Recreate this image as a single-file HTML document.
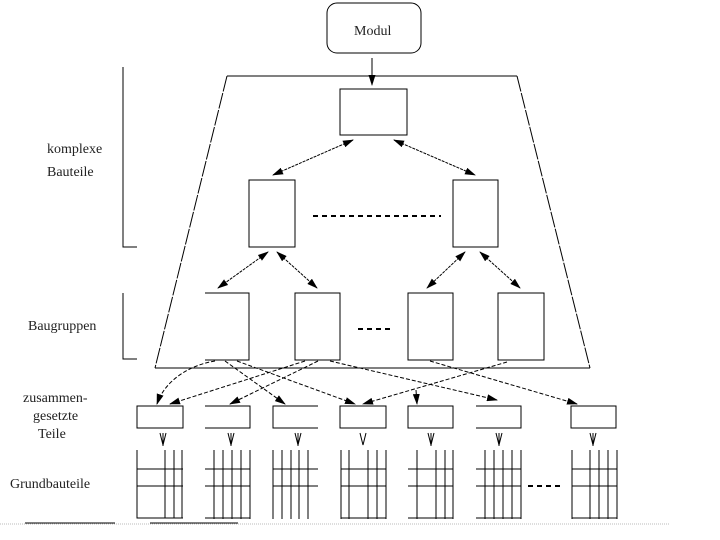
<!DOCTYPE html>
<html><head><style>body{margin:0;background:#fff}svg{display:block}text{font-family:"Liberation Serif",serif;font-size:14px;fill:#222}</style></head><body>
<svg width="720" height="540" viewBox="0 0 720 540" xmlns="http://www.w3.org/2000/svg">
<defs><marker id="a" markerWidth="11" markerHeight="7" refX="10" refY="3.5" orient="auto-start-reverse" markerUnits="userSpaceOnUse"><path d="M0,0L11,3.5L0,7z" fill="#000"/></marker></defs>
<g stroke="#000" fill="none" stroke-width="1">
<rect x="327" y="3" width="94" height="50" rx="10"/>
<line x1="372" y1="58" x2="372" y2="85" marker-end="url(#a)"/>
<path d="M227,76H517M155,368H590"/>
<path d="M227,76L155,368M517,76L590,368" stroke-dasharray="16,1.5"/>
<rect x="340" y="89" width="67" height="46"/>
<rect x="249" y="180" width="46" height="67"/>
<rect x="453" y="180" width="45" height="67"/>
<path d="M205,293H249V360H205M295,293h45v67h-45zM408,293h45v67h-45zM498,293h46v67h-46z"/>
<line x1="313" y1="216" x2="441" y2="216" stroke-dasharray="5,4" stroke-width="2"/>
<line x1="358" y1="329" x2="392" y2="329" stroke-dasharray="5,4" stroke-width="2"/>
<g stroke-dasharray="3,1" marker-start="url(#a)" marker-end="url(#a)">
<line x1="353" y1="140" x2="273" y2="175"/>
<line x1="394" y1="140" x2="475" y2="175"/>
<line x1="268" y1="252" x2="218" y2="288"/>
<line x1="277" y1="252" x2="317" y2="288"/>
<line x1="465" y1="252" x2="427" y2="288"/>
<line x1="480" y1="252" x2="520" y2="288"/>
</g>
<path d="M123,67V247H137M123,293V359H137"/>
<g stroke-dasharray="4,2" >
<path d="M215,361C190,365 165,380 157,404" marker-end="url(#a)"/>
<line x1="305" y1="361" x2="170" y2="404" marker-end="url(#a)"/>
<line x1="318" y1="361" x2="230" y2="404" marker-end="url(#a)"/>
<line x1="225" y1="361" x2="285" y2="404" marker-end="url(#a)"/>
<line x1="237" y1="361" x2="355" y2="404" marker-end="url(#a)"/>
<line x1="330" y1="361" x2="497" y2="400" marker-end="url(#a)"/>
<line x1="507" y1="362" x2="363" y2="404" marker-end="url(#a)"/>
<line x1="430" y1="361" x2="577" y2="404" marker-end="url(#a)"/>
<line x1="416" y1="390" x2="417" y2="404" marker-end="url(#a)"/>
</g>
<path d="M137,406h46v22h-46zM205,406H250V428H205M318,406H273V428H318M340,406h46v22h-46zM408,406h45v22h-45zM476,406H521V428H476M571,406h45v22h-45z"/>
<g>
<path d="M160,433l3,12l3,-12M163,433v13"/><path d="M228,433l3,12l3,-12M231,433v13"/><path d="M295,433l3,12l3,-12M298,433v13"/><path d="M360,433l3,12l3,-12"/><path d="M428,433l3,12l3,-12M431,433v13"/><path d="M496,433l3,12l3,-12M499,433v13"/><path d="M590,433l3,12l3,-12M593,433v13"/>
</g>
<path d="M137,450V518H183M165,450V518M174,450V518M182,450V518M137,469H183M137,486H183"/>
<path d="M214,450V519M223,450V519M232,450V519M241,450V519M250,450V519M205,469H250M205,486H250M205,518H250"/>
<path d="M273,450V519M282,450V519M291,450V519M299,450V519M308,450V519M273,469H318M273,486H318"/>
<path d="M341,450V519M349,450V519M368,450V519M377,450V519M386,450V519M341,469H386M341,486H386M341,518H386"/>
<path d="M417,450V519M436,450V519M445,450V519M453,450V519M408,469H453M408,486H453M408,518H453"/>
<path d="M485,450V519M494,450V519M503,450V519M512,450V519M521,450V519M476,469H521M476,486H521M476,518H521"/>
<path d="M572,450V519M590,450V519M599,450V519M608,450V519M617,450V519M572,469H617M572,486H617M572,518H617"/>
<line x1="528" y1="486" x2="563" y2="486" stroke-dasharray="5,4" stroke-width="2"/>
<line x1="0" y1="524" x2="670" y2="524" stroke="#bbb" stroke-dasharray="1,1"/>
<line x1="25" y1="523" x2="115" y2="523"/><line x1="150" y1="523" x2="238" y2="523"/>
</g>
<text x="354" y="35">Modul</text>
<text x="47" y="153">komplexe</text>
<text x="47" y="176">Bauteile</text>
<text x="28" y="330">Baugruppen</text>
<text x="23" y="402">zusammen-</text>
<text x="33" y="420">gesetzte</text>
<text x="38" y="438">Teile</text>
<text x="10" y="488">Grundbauteile</text>
</svg>
</body></html>
